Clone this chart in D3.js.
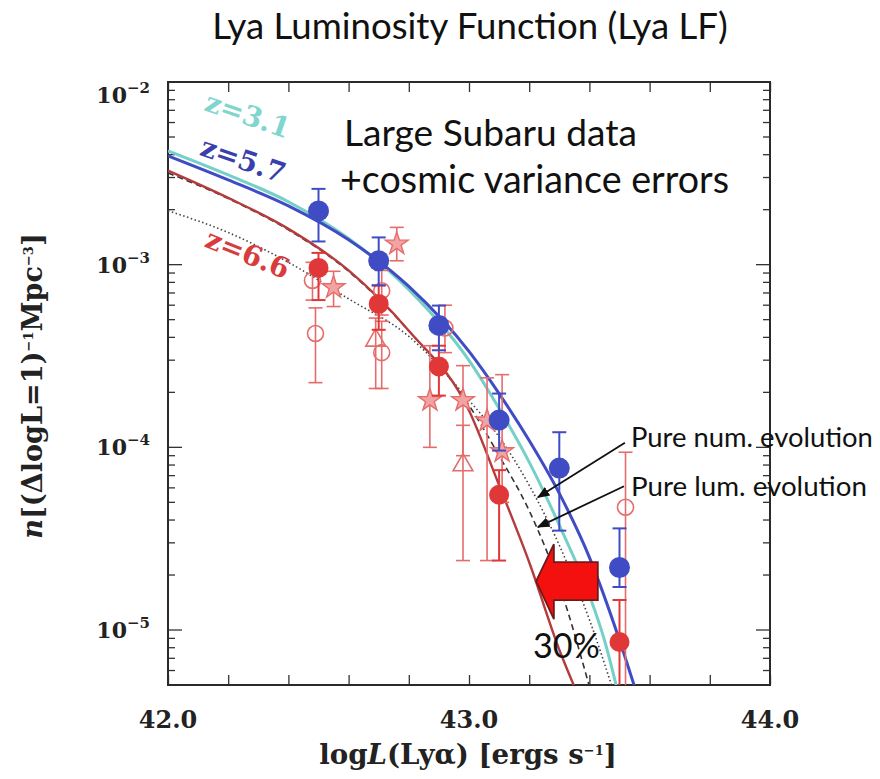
<!DOCTYPE html>
<html>
<head>
<meta charset="utf-8">
<script src="https://cdn.jsdelivr.net/npm/d3@7"></script>
<style>
  body { margin: 0; background: #fff; }
  svg { display: block; }
  .serif { font-family: "DejaVu Serif", serif; font-weight: bold; }
  .sans { font-family: Lato, "Open Sans", sans-serif; }
</style>
</head>
<body>
<div id="chart"></div>
<script>
let width = 880;
let height = 779;
let margin = { top: 82, right: 110, bottom: 94, left: 168 };

// Subaru z=5.7 (filled blue)
let lum57 = [42.5, 42.7, 42.9, 43.1, 43.3, 43.5];
let n57 = [1.97e-3, 1.05e-3, 4.65e-4, 1.41e-4, 7.7e-5, 2.2e-5];
let n57Hi = [2.6e-3, 1.41e-3, 5.97e-4, 1.97e-4, 1.21e-4, 3.6e-5];
let n57Lo = [1.34e-3, 7.7e-4, 3.4e-4, 9.6e-5, 3.5e-5, 1.72e-5];

// Subaru z=6.6 (filled red)
let lum66 = [42.5, 42.7, 42.9, 43.1, 43.5];
let n66 = [9.6e-4, 6.1e-4, 2.77e-4, 5.5e-5, 8.6e-6];
let n66Hi = [1.16e-3, 7.7e-4, 3.6e-4, 7.5e-5, 1.46e-5];
let n66Lo = [6.4e-4, 4.4e-4, 1.92e-4, 2.4e-5, 4e-6];

// other z=6.6 surveys (light red)
let lumOpenC = [42.48, 42.49, 42.71, 42.71, 42.92, 43.52];
let nOpenC = [8.2e-4, 4.2e-4, 7.2e-4, 3.3e-4, 4.5e-4, 4.7e-5];
let nOpenCHi = [1.03e-3, 5.8e-4, 9.3e-4, 4.9e-4, 6.0e-4, 9.4e-5];
let nOpenCLo = [6.4e-4, 2.26e-4, 5.3e-4, 2.1e-4, 3.3e-4, 4e-6];

let lumTri = [42.69, 42.98];
let nTri = [3.85e-4, 8.0e-5];
let nTriHi = [5.1e-4, 1.32e-4];
let nTriLo = [2.1e-4, 2.4e-5];

let lumStar = [42.55, 42.76, 42.87, 42.98, 43.06, 43.11];
let nStar = [7.5e-4, 1.3e-3, 1.81e-4, 1.81e-4, 1.4e-4, 9.5e-5];
let nStarHi = [9.2e-4, 1.6e-3, 3.6e-4, 2.8e-4, 2.4e-4, 2.5e-4];
let nStarLo = [5.9e-4, 1.05e-3, 1.0e-4, 9.0e-5, 2.4e-5, 5.0e-5];

// model curves: [logL, n]
let curve31 = [[42.0, 4.2e-3], [42.2, 3.1e-3], [42.4, 2.21e-3], [42.6, 1.39e-3], [42.8, 7.3e-4], [43.0, 2.99e-4],
  [43.1, 1.63e-4], [43.2, 8.3e-5], [43.3, 3.75e-5], [43.4, 1.55e-5], [43.45, 8.8e-6], [43.49, 4.9e-6]];
let curve57 = [[42.0, 3.94e-3], [42.2, 2.91e-3], [42.4, 2.10e-3], [42.6, 1.37e-3], [42.8, 7.6e-4], [43.0, 3.35e-4],
  [43.1, 1.97e-4], [43.2, 1.09e-4], [43.3, 5.6e-5], [43.4, 2.5e-5], [43.5, 8.8e-6], [43.55, 4.9e-6]];
let curve66 = [[42.0, 3.27e-3], [42.2, 2.32e-3], [42.4, 1.57e-3], [42.6, 9.3e-4], [42.8, 4.35e-4], [43.0, 1.59e-4],
  [43.1, 6.2e-5], [43.2, 2.35e-5], [43.3, 7.8e-6], [43.35, 4.9e-6]];
let curveLum = [[42.0, 3.18e-3], [42.2, 2.30e-3], [42.4, 1.55e-3], [42.6, 9.2e-4], [42.8, 4.35e-4], [43.0, 1.70e-4],
  [43.1, 9.0e-5], [43.2, 4.5e-5], [43.3, 1.76e-5], [43.4, 4.9e-6]];
let curveNum = [[42.0, 1.97e-3], [42.2, 1.50e-3], [42.4, 1.03e-3], [42.6, 6.5e-4], [42.8, 4.05e-4], [43.0, 1.81e-4],
  [43.1, 1.14e-4], [43.2, 6.2e-5], [43.3, 2.91e-5], [43.4, 1.14e-5], [43.475, 4.9e-6]];

let xLabels = [42.0, 43.0, 44.0];
let yLabels = [1e-2, 1e-3, 1e-4, 1e-5];

let blue = "#3f4cc4";
let cyan = "#74d0c8";
let red = "#e03838";
let darkRed = "#b43c3c";
let pink = "#e66c6c";

let svg = d3.select("#chart").append("svg")
  .attr("width", width)
  .attr("height", height);

let x = d3.scaleLinear().domain([42, 44]).range([margin.left, width - margin.right]);
let y = d3.scaleLog().domain([5e-6, 1e-2]).range([height - margin.bottom, margin.top]);

svg.append("clipPath").attr("id", "plotClip")
  .append("rect")
  .attr("x", margin.left).attr("y", margin.top)
  .attr("width", width - margin.left - margin.right)
  .attr("height", height - margin.top - margin.bottom);

// fit a text to a given width
function fitWidth(sel, w) {
  let cur = sel.node().getComputedTextLength();
  let fs = parseFloat(sel.attr("font-size"));
  sel.attr("font-size", (fs * w / cur).toFixed(2));
}

// title
let title = svg.append("text").attr("class", "sans")
  .attr("x", 470).attr("y", 39)
  .attr("text-anchor", "middle")
  .attr("font-size", 34)
  .attr("fill", "#111")
  .text("Lya Luminosity Function (Lya LF)");
fitWidth(title, 516);

// axes with inward ticks
let bottomY = height - margin.bottom;
let rightX = width - margin.right;
function tickLen(v) {
  let e = Math.log10(v);
  return Math.abs(e - Math.round(e)) < 1e-6 ? 14 : 7;
}

svg.append("g")
  .attr("transform", "translate(0," + bottomY + ")")
  .call(d3.axisBottom(x).ticks(10).tickSize(-10).tickFormat(""))
  .call(g => g.select(".domain").remove());
svg.append("g")
  .attr("transform", "translate(0," + margin.top + ")")
  .call(d3.axisTop(x).ticks(10).tickSize(-10).tickFormat(""))
  .call(g => g.select(".domain").remove());

let yTicks = y.ticks();
svg.append("g").selectAll("line")
  .data(yTicks)
  .enter().append("line")
  .attr("x1", margin.left).attr("x2", d => margin.left + tickLen(d))
  .attr("y1", d => y(d)).attr("y2", d => y(d));
svg.append("g").selectAll("line")
  .data(yTicks)
  .enter().append("line")
  .attr("x1", rightX).attr("x2", d => rightX - tickLen(d))
  .attr("y1", d => y(d)).attr("y2", d => y(d));
svg.selectAll("g line").attr("stroke", "#333").attr("stroke-width", 1.3);

svg.append("rect")
  .attr("x", margin.left).attr("y", margin.top)
  .attr("width", rightX - margin.left).attr("height", bottomY - margin.top)
  .attr("fill", "none").attr("stroke", "#2a2a2a").attr("stroke-width", 2);

// tick labels
svg.selectAll(".xLab").data(xLabels).enter().append("text")
  .attr("class", "serif xLab")
  .attr("x", d => x(d)).attr("y", bottomY + 43)
  .attr("text-anchor", "middle")
  .attr("font-size", 24).attr("fill", "#222")
  .text(d => d.toFixed(1));

let yLab = svg.selectAll(".yLab").data(yLabels).enter().append("text")
  .attr("class", "serif yLab")
  .attr("x", 150)
  .attr("y", d => y(d) + (d === 1e-2 ? 21 : 8))
  .attr("text-anchor", "end")
  .attr("font-size", 22).attr("fill", "#222");
yLab.append("tspan").text("10");
yLab.append("tspan").attr("font-size", 15).attr("dy", -10)
  .text(d => "\u2212" + Math.round(-Math.log10(d)));

// axis titles
let xTitle = svg.append("text").attr("class", "serif")
  .attr("x", 468).attr("y", 764)
  .attr("text-anchor", "middle")
  .attr("font-size", 21).attr("fill", "#222");
xTitle.append("tspan").text("log");
xTitle.append("tspan").attr("font-style", "italic").text("L");
xTitle.append("tspan").text("(Ly\u03b1) [ergs s");
xTitle.append("tspan").attr("font-size", 13).attr("dy", -9).text("\u22121");
xTitle.append("tspan").attr("dy", 9).text("]");
fitWidth(xTitle, 304);

let yTitle = svg.append("text").attr("class", "serif")
  .attr("transform", "translate(42,386) rotate(-90)")
  .attr("text-anchor", "middle")
  .attr("font-size", 21).attr("fill", "#222");
yTitle.append("tspan").attr("font-style", "italic").text("n");
yTitle.append("tspan").text("[(\u0394logL=1)");
yTitle.append("tspan").attr("font-size", 13).attr("dy", -9).text("\u22121");
yTitle.append("tspan").attr("dy", 9).text("Mpc");
yTitle.append("tspan").attr("font-size", 13).attr("dy", -9).text("\u22123");
yTitle.append("tspan").attr("dy", 9).text("]");
fitWidth(yTitle, 317);

// model curves
let line = d3.line()
  .x(d => x(d[0]))
  .y(d => y(d[1]))
  .curve(d3.curveMonotoneX);

let curves = svg.append("g").attr("clip-path", "url(#plotClip)");
curves.append("path").datum(curveNum)
  .attr("d", line).attr("fill", "none")
  .attr("stroke", "#444").attr("stroke-width", 1.6).attr("stroke-dasharray", "1.5,2.5");
curves.append("path").datum(curveLum)
  .attr("d", line).attr("fill", "none")
  .attr("stroke", "#333").attr("stroke-width", 1.6).attr("stroke-dasharray", "6,4");
curves.append("path").datum(curve66)
  .attr("d", line).attr("fill", "none")
  .attr("stroke", darkRed).attr("stroke-width", 2.4);
curves.append("path").datum(curve31)
  .attr("d", line).attr("fill", "none")
  .attr("stroke", cyan).attr("stroke-width", 3);
curves.append("path").datum(curve57)
  .attr("d", line).attr("fill", "none")
  .attr("stroke", blue).attr("stroke-width", 3);

// error bars
function errorBars(lums, lo, hi, color, w) {
  let g = svg.append("g").attr("clip-path", "url(#plotClip)")
    .attr("stroke", color).attr("stroke-width", w);
  lums.forEach(function (l, i) {
    g.append("line")
      .attr("x1", x(l)).attr("x2", x(l))
      .attr("y1", y(hi[i])).attr("y2", y(lo[i]));
    [hi[i], lo[i]].forEach(function (v) {
      g.append("line")
        .attr("x1", x(l) - 7).attr("x2", x(l) + 7)
        .attr("y1", y(v)).attr("y2", y(v));
    });
  });
}

errorBars(lumOpenC, nOpenCLo, nOpenCHi, pink, 1.6);
errorBars(lumTri, nTriLo, nTriHi, pink, 1.6);
errorBars(lumStar, nStarLo, nStarHi, pink, 1.6);

let marks = svg.append("g");
lumOpenC.forEach(function (l, i) {
  marks.append("circle")
    .attr("cx", x(l)).attr("cy", y(nOpenC[i])).attr("r", 8)
    .attr("fill", "none").attr("stroke", pink).attr("stroke-width", 1.6);
});
lumTri.forEach(function (l, i) {
  marks.append("path")
    .attr("d", d3.symbol(d3.symbolTriangle, 170)())
    .attr("transform", "translate(" + x(l) + "," + y(nTri[i]) + ")")
    .attr("fill", "none").attr("stroke", pink).attr("stroke-width", 1.6);
});
lumStar.forEach(function (l, i) {
  marks.append("path")
    .attr("d", d3.symbol(d3.symbolStar, 160)())
    .attr("transform", "translate(" + x(l) + "," + y(nStar[i]) + ")")
    .attr("fill", "#f2a4a4").attr("stroke", pink).attr("stroke-width", 1.4);
});

errorBars(lum66, n66Lo, n66Hi, red, 2);
errorBars(lum57, n57Lo, n57Hi, blue, 2);

lum66.forEach(function (l, i) {
  marks.append("circle")
    .attr("cx", x(l)).attr("cy", y(n66[i])).attr("r", 10)
    .attr("fill", red);
});
lum57.forEach(function (l, i) {
  marks.append("circle")
    .attr("cx", x(l)).attr("cy", y(n57[i])).attr("r", 10.5)
    .attr("fill", blue);
});

// curve labels
let zLabels = [
  { text: "z=3.1", l: 42.265, n: 6.6e-3, angle: 19, color: "#80d6ce" },
  { text: "z=5.7", l: 42.25, n: 3.75e-3, angle: 19, color: "#3a3fae" },
  { text: "z=6.6", l: 42.265, n: 1.15e-3, angle: 22, color: "#d83c3c" }
];
svg.selectAll(".zLab").data(zLabels).enter().append("text")
  .attr("class", "serif zLab")
  .attr("transform", d => "translate(" + x(d.l) + "," + y(d.n) + ") rotate(" + d.angle + ")")
  .attr("text-anchor", "middle")
  .attr("dy", "0.35em")
  .attr("font-size", 28)
  .attr("fill", d => d.color)
  .text(d => d.text);

// annotations
let t1 = svg.append("text").attr("class", "sans")
  .attr("x", 344).attr("y", 146).attr("font-size", 32).attr("fill", "#111")
  .text("Large Subaru data");
fitWidth(t1, 293);
let t2 = svg.append("text").attr("class", "sans")
  .attr("x", 340).attr("y", 193).attr("font-size", 32).attr("fill", "#111")
  .text("+cosmic variance errors");
fitWidth(t2, 389);

svg.append("defs").append("marker")
  .attr("id", "head")
  .attr("viewBox", "0 0 10 10")
  .attr("refX", 9).attr("refY", 5)
  .attr("markerWidth", 7).attr("markerHeight", 7)
  .attr("markerUnits", "strokeWidth")
  .attr("orient", "auto")
  .append("path").attr("d", "M0,1 L10,5 L0,9 z").attr("fill", "#111");

let pointers = [
  { text: "Pure num. evolution", tail: [43.518, 1.06e-4], tip: [43.229, 5.33e-5], tx: 631, ty: 447, w: 242 },
  { text: "Pure lum. evolution", tail: [43.515, 6.12e-5], tip: [43.229, 3.66e-5], tx: 631, ty: 496, w: 236 }
];
pointers.forEach(function (p) {
  svg.append("line")
    .attr("x1", x(p.tail[0])).attr("y1", y(p.tail[1]))
    .attr("x2", x(p.tip[0])).attr("y2", y(p.tip[1]))
    .attr("stroke", "#111").attr("stroke-width", 1.8)
    .attr("marker-end", "url(#head)");
  let t = svg.append("text").attr("class", "sans")
    .attr("x", p.tx).attr("y", p.ty).attr("font-size", 22).attr("fill", "#111")
    .text(p.text);
  fitWidth(t, p.w);
});

// big red arrow (30% shift)
let arrow = { tip: 43.223, neck: 43.282, tail: 43.428, n: 1.85e-5 };
let ay = y(arrow.n);
let ax0 = x(arrow.tip), ax1 = x(arrow.neck), ax2 = x(arrow.tail);
svg.append("path")
  .attr("d", "M" + ax0 + "," + ay +
    " L" + ax1 + "," + (ay - 37) +
    " L" + ax1 + "," + (ay - 19) +
    " L" + ax2 + "," + (ay - 19) +
    " L" + ax2 + "," + (ay + 19) +
    " L" + ax1 + "," + (ay + 19) +
    " L" + ax1 + "," + (ay + 38) + " Z")
  .attr("fill", "#f51010").attr("stroke", "#6e1a1a").attr("stroke-width", 1.8);

let t3 = svg.append("text").attr("class", "sans")
  .attr("x", 533).attr("y", 658).attr("font-size", 36).attr("fill", "#111")
  .text("30%");
fitWidth(t3, 67);
</script>
</body>
</html>
